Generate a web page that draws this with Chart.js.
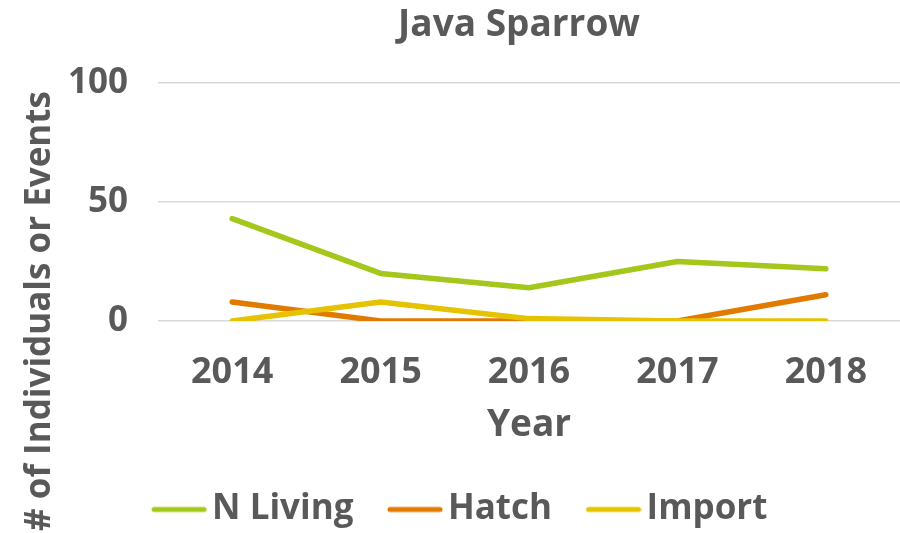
<!DOCTYPE html>
<html>
<head>
<meta charset="utf-8">
<script src="https://cdn.jsdelivr.net/npm/chart.js@4.4.0/dist/chart.umd.min.js"></script>
<style>
html,body{margin:0;padding:0;background:#fff;}
#wrap{width:900px;height:533px;position:relative;}
</style>
</head>
<body>
<div id="wrap"><canvas id="c" width="900" height="533"></canvas></div>
<script>
const categories = ['2014', '2015', '2016', '2017', '2018'];
const nLiving = [43, 20, 14, 25, 22];
const hatch = [8, 0, 0, 0, 11];
const importVals = [0, 8, 1, 0, 0];
const yTicks = [0, 50, 100];
const chartTitle = 'Java Sparrow';
const xTitle = 'Year';
const yTitle = '# of Individuals or Events';

const FONT = "'Open Sans', 'Lato', sans-serif";
const GREY = '#595959';

// legend swatch: a short round-capped line
function swatch(color) {
  const c = document.createElement('canvas');
  c.width = 56; c.height = 8;
  const g = c.getContext('2d');
  g.strokeStyle = color; g.lineWidth = 5; g.lineCap = 'round';
  g.beginPath(); g.moveTo(3, 4); g.lineTo(53, 4); g.stroke();
  return c;
}

const textPlugin = {
  id: 'textPlugin',
  afterDraw(chart) {
    const ctx = chart.ctx;
    ctx.save();
    ctx.fillStyle = GREY;
    ctx.textAlign = 'center';
    ctx.textBaseline = 'middle';
    ctx.font = 'bold 37px ' + FONT;
    ctx.fillText(chartTitle, 519, 25);
    ctx.translate(40, 311);
    ctx.rotate(-Math.PI / 2);
    ctx.font = 'bold 35px ' + FONT;
    ctx.fillText(yTitle, 0, 0);
    ctx.restore();
  }
};

const mk = (label, data, color, order) => ({
  label, data, borderColor: color, backgroundColor: color,
  borderWidth: 5.5, borderCapStyle: 'round', borderJoinStyle: 'round',
  pointRadius: 0, pointHoverRadius: 0, pointStyle: swatch(color),
  tension: 0, fill: false, order
});

new Chart(document.getElementById('c'), {
  type: 'line',
  data: {
    labels: categories,
    datasets: [
      mk('N Living', nLiving, '#A3C71A', 2),
      mk('Hatch', hatch, '#E07A00', 1),
      mk('Import', importVals, '#E6C300', 0)
    ]
  },
  options: {
    responsive: false,
    animation: false,
    layout: { padding: { left: 24, right: -7, top: 83, bottom: -4 } },
    plugins: {
      title: { display: false },
      legend: {
        position: 'bottom',
        labels: {
          sort: (a, b) => a.datasetIndex - b.datasetIndex,
          usePointStyle: true, pointStyleWidth: 31,
          color: GREY, padding: 46,
          font: { family: FONT, size: 35, weight: 'bold' }
        }
      },
      tooltip: { enabled: false }
    },
    scales: {
      x: {
        offset: true,
        afterFit(s) { s.height = 125; },
        grid: { display: false, drawTicks: false },
        border: { display: false },
        ticks: { color: GREY, padding: 30, font: { family: FONT, size: 36, weight: 'bold' } },
        title: { display: true, text: xTitle, color: GREY, padding: { top: 0, bottom: -2 },
          font: { family: FONT, size: 37, weight: 'bold' } }
      },
      y: {
        min: 0, max: 100,
        afterBuildTicks(s) { s.ticks = yTicks.map(v => ({ value: v })); },
        afterFit(s) { s.width = 134; },
        grid: { color: '#D9D9D9', lineWidth: 1.5, drawTicks: false },
        border: { display: false },
        ticks: { color: GREY, padding: 30, font: { family: FONT, size: 35, weight: 'bold' } }
      }
    }
  },
  plugins: [textPlugin]
});
</script>
</body>
</html>
